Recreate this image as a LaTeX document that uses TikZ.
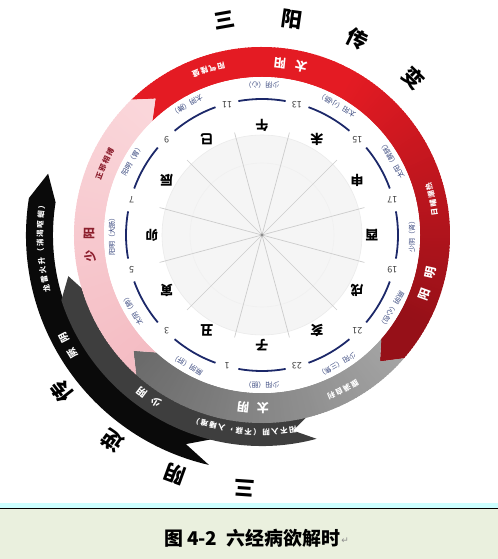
\documentclass[tikz,border=0pt]{standalone}
\usepackage{fontspec}
\setmainfont{Noto Sans CJK SC}
\newfontfamily\dejavu{DejaVu Sans}
\definecolor{redA}{RGB}{228,27,35}
\definecolor{redB}{RGB}{150,16,24}
\definecolor{grayL}{RGB}{165,165,165}
\definecolor{grayD}{RGB}{105,105,105}
\definecolor{pinkL}{RGB}{250,214,218}
\definecolor{pinkD}{RGB}{244,188,195}
\definecolor{ringBc}{RGB}{62,62,62}
\definecolor{ringCc}{RGB}{10,10,10}
\definecolor{navy}{RGB}{28,40,105}
\definecolor{lblc}{RGB}{55,70,125}
\definecolor{maroon}{RGB}{140,30,45}
\definecolor{capbg}{RGB}{234,240,222}
\definecolor{capcyan}{RGB}{204,255,255}
\newcommand\bandpath[5]{(#3:#2) arc[start angle=#3, end angle=#4, radius=#2] -- ({#4-#5}:{(#1+#2)/2}) -- (#4:#1) arc[start angle=#4, end angle=#3, radius=#1] -- ({#3-#5}:{(#1+#2)/2}) -- cycle}
\newcommand\arcstr[7]{%
  \foreach \ch [count=\i from 0] in {#7} {%
    \pgfmathsetmacro\ang{#3+\i*(#4)}%
    \node[#6, rotate=\ang+#5] (#1\i) at (\ang:#2) {\ch};%
  }}
\tikzset{
  ringbig/.style={font=\fontsize{12}{12}\selectfont\bfseries, text=white, inner sep=0},
  ringmid/.style={font=\fontsize{10}{10}\selectfont\bfseries, text=white, inner sep=0},
  ringsmall/.style={font=\fontsize{7.5}{7.5}\selectfont\bfseries, text=white, inner sep=0},
  outer/.style={font=\fontsize{21}{21}\selectfont\bfseries, text=black, inner sep=0},
  branch/.style={font=\fontsize{13}{13}\selectfont\bfseries, text=black, inner sep=0, rotate=180},
  hournum/.style={font=\fontsize{9}{9}\selectfont, text=black!75, inner sep=0, rotate=180},
  organ/.style={font=\fontsize{7}{7}\selectfont, text=lblc, inner sep=0},
  spoke/.style={draw=black!20, line width=0.7pt},
  hourarc/.style={draw=navy, line width=1.8pt},
}
\begin{document}
\begin{tikzpicture}[x=1bp,y=1bp]
\useasboundingbox (-262,-324) rectangle (236,235);
% caption area
\fill[capcyan] (-262,-268) rectangle (236,-273.5);
\fill[capbg] (-262,-273.5) rectangle (236,-324);
\draw[black, line width=0.8pt] (-262,-273.8) -- (236,-273.8);
\node[anchor=west, inner sep=0, font=\fontsize{19}{19}\selectfont\bfseries] (cap) at (-98,-303) {图\hspace{4bp}4-2\hspace{9bp}六经病欲解时};
\node[anchor=west, inner sep=0, font=\dejavu\fontsize{9}{9}\selectfont, text=black!45] (ret) at ([xshift=1bp,yshift=-3bp]cap.east) {↵};
% ring C (jueyin)
\fill[ringCc] \bandpath{209}{236}{257}{171}{7};
% ring B (shaoyin)
\fill[ringBc] \bandpath{185}{211}{-75}{-162}{6};
% ring A red
\begin{scope}
  \clip \bandpath{158}{188}{134}{-41}{6};
  \foreach \a in {-50,...,140} {
    \pgfmathtruncatemacro\t{max(0,min(100,(\a+30)/90*100))}
    \fill[redA!\t!redB] (0,0) -- (\a:200) -- ({\a+1.4}:200) -- cycle;
  }
\end{scope}
% ring A gray
\begin{scope}
  \clip \bandpath{158}{188}{-41}{-132}{6};
  \foreach \a in {-142,...,-38} {
    \pgfmathtruncatemacro\t{max(0,min(100,(\a+138)/97*100))}
    \fill[grayL!\t!grayD] (0,0) -- (\a:200) -- ({\a+1.4}:200) -- cycle;
  }
\end{scope}
% ring A pink
\begin{scope}
  \clip \bandpath{158}{188}{228}{134}{6};
  \foreach \a in {124,...,230} {
    \pgfmathtruncatemacro\t{max(0,min(100,(228-\a)/94*100))}
    \fill[pinkL!\t!pinkD] (0,0) -- (\a:200) -- ({\a+1.4}:200) -- cycle;
  }
\end{scope}
% white disk
\fill[white] (0,0) circle (158);
\fill[black!4] (0,0) circle (100);
\draw[black!8, line width=0.6pt] (0,0) circle (100);
\draw[black!6, line width=0.6pt] (0,0) circle (72);
\foreach \a in {15,45,...,345} { \draw[spoke] (0,0) -- (\a:106); }
\fill[black!45] (0,0) circle (1.6);
% hour arcs
\foreach \b in {0,30,...,330} { \draw[hourarc] ({\b-10}:136) arc[start angle=\b-10, end angle=\b+10, radius=136]; }
% earthly branches
\foreach \a/\c [count=\k] in {-90/子,-120/丑,-150/寅,180/卯,150/辰,120/巳,90/午,60/未,30/申,0/酉,-30/戌,-60/亥} {
  \node[branch] (br\k) at (\a:110) {\c};
}
% hour numbers
\foreach \a/\n [count=\k] in {255/1,225/3,195/5,165/7,135/9,105/11,75/13,45/15,15/17,-15/19,-45/21,-75/23} {
  \node[hournum] (hn\k) at (\a:135) {\n};
}
% organ labels
\foreach \a/\s [count=\k] in {90/少阴（心）,60/太阳（小肠）,30/太阳（膀胱）,0/少阴（肾）,-30/厥阴（心包）,-60/少阳（三焦）,-90/少阳（胆）,-120/厥阴（肝）,-150/太阴（肺）,180/阳明（大肠）,150/阳明（胃）,120/太阴（脾）} {
  \pgfmathsetmacro\rot{(\a>=-22.5 && \a<135) ? \a+90 : \a-90}
  \node[organ, rotate=\rot] (og\k) at (\a:150) {\s};
}
% ring A texts
\arcstr{ty}{173}{77}{7}{90}{ringbig}{太,阳}
\arcstr{tys}{174}{103.6}{2.9}{90}{ringsmall}{阳,气,隆,盛}
\arcstr{ym}{173}{-20}{7.3}{90}{ringbig}{阳,明}
\arcstr{yms}{174}{7.5}{2.9}{90}{ringsmall}{日,晡,潮,热}
\arcstr{tyn}{173}{270.3}{-6.5}{-90}{ringbig}{太,阴}
\arcstr{tyns}{175}{-58}{-2.9}{-90}{ringsmall}{腹,满,自,利}
\arcstr{sy}{173}{187}{-7.5}{-90}{ringbig,text=maroon}{少,阳}
\arcstr{sys}{173}{160}{-2.9}{-90}{ringsmall,text=maroon}{正,邪,相,搏}
% ring B texts
\arcstr{sn}{198}{237.6}{-5}{-90}{ringmid}{少,阴}
\arcstr{sns}{197}{279}{-2.6}{-90}{ringsmall}{阳,不,入,阴,（,不,寐,，,入,睡,难,）}
% ring C texts
\arcstr{jy}{223}{212}{-4.6}{-90}{ringmid}{厥,阴}
\arcstr{jys}{222}{194}{-2.4}{-90}{ringsmall}{龙,雷,火,升,（,消,渴,呕,蛔,）}
% outer big texts
\arcstr{oa}{218}{100}{-18}{-90}{outer}{三,阳,传,变}
\arcstr{ob}{254}{266}{-16}{-90}{outer}{三,阴,逆,传}
\end{tikzpicture}
\end{document}
